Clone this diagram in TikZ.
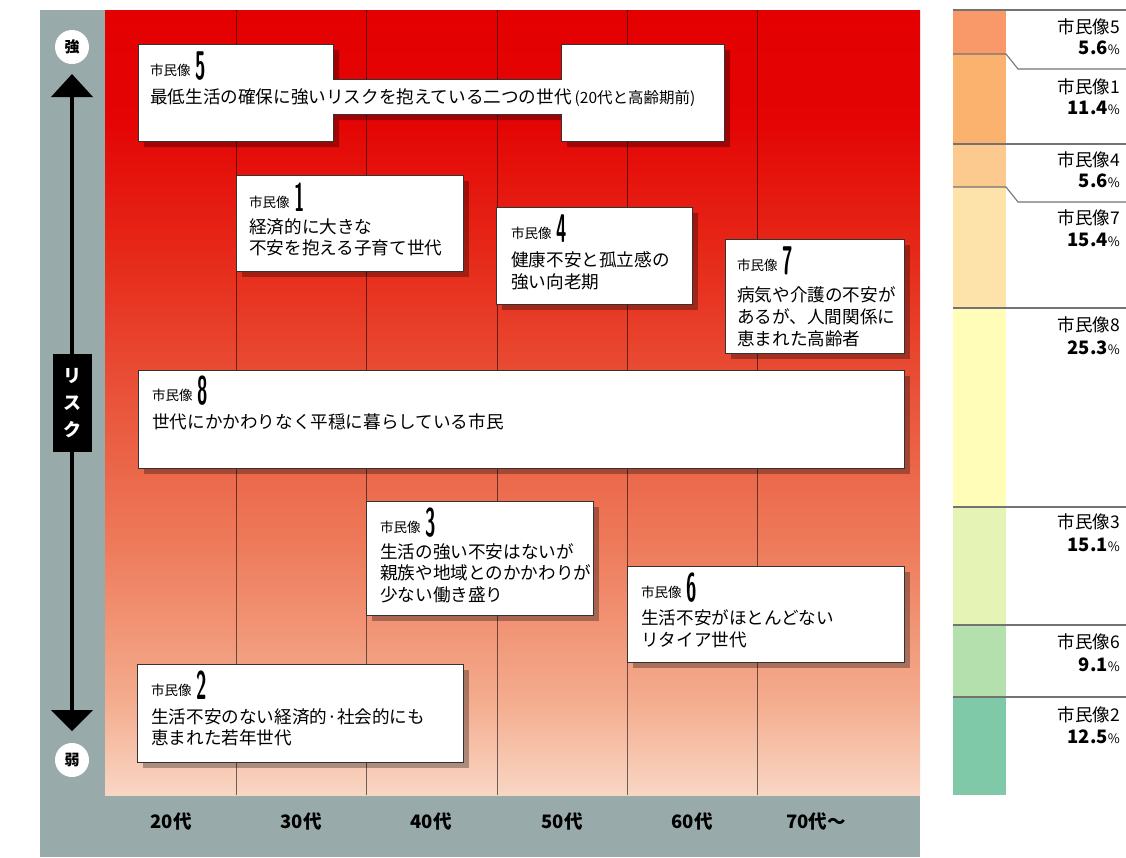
\documentclass[tikz,border=0pt]{standalone}
\usepackage{fontspec}
\usepackage{graphicx}
\setmainfont{Noto Sans CJK JP}
\usetikzlibrary{shadows}
\definecolor{g1}{HTML}{E40000}
\definecolor{g2}{HTML}{E40404}
\definecolor{g3}{HTML}{E62818}
\definecolor{g4}{HTML}{E9543A}
\definecolor{g5}{HTML}{EE7C5C}
\definecolor{g6}{HTML}{F4AC8E}
\definecolor{g7}{HTML}{F9D6C4}
\definecolor{panel}{HTML}{99AAAA}
\definecolor{c5}{HTML}{F9996A}
\definecolor{c1}{HTML}{FBB26E}
\definecolor{c4}{HTML}{FCCA8E}
\definecolor{c7}{HTML}{FDE3A9}
\definecolor{c8}{HTML}{FFFDB8}
\definecolor{c3}{HTML}{E5F3B5}
\definecolor{c6}{HTML}{B4E0AE}
\definecolor{c2}{HTML}{7FC9A8}
\pgfdeclareverticalshading{redgrad}{100bp}{color(0bp)=(g7); color(25bp)=(g7); color(31.05bp)=(g6); color(40.6bp)=(g5); color(50.16bp)=(g4); color(59.71bp)=(g3); color(67.99bp)=(g2); color(75bp)=(g1); color(100bp)=(g1)}
\newcommand\hdrtxt[1]{{\fontsize{13.5}{14}\selectfont 市民像}\hspace{5pt}\raisebox{-4pt}{\scalebox{0.47}[1]{\fontsize{40}{40}\selectfont\sffamily\bfseries #1}}}
\newcommand\pct[2]{{\fontsize{18.5}{18.5}\selectfont\bfseries #1}{\fontsize{13}{13}\selectfont #2}}
\tikzset{
  boxsty/.style={draw=black!80, fill=white, line width=0.9pt, inner sep=0pt, anchor=north west,
    drop shadow={shadow xshift=6pt, shadow yshift=-6pt, fill=black, opacity=0.3}},
  txt/.style={inner sep=0pt, anchor=base west, font=\fontsize{17.6}{17.6}\selectfont},
  hdr/.style={inner sep=0pt, anchor=base west},
  gridl/.style={draw=black, opacity=0.55, line width=1pt},
  leg/.style={inner sep=0pt, anchor=base east, font=\fontsize{17.5}{17.5}\selectfont},
  sep/.style={draw=black!55, line width=1.1pt},
  axl/.style={inner sep=0pt, font=\fontsize{18.5}{18.5}\selectfont\bfseries},
}
\begin{document}
\begin{tikzpicture}[x=1pt,y=-1pt]
\useasboundingbox (0,0) rectangle (1126,857);
% panels
\fill[panel] (40,10) rectangle (105,857);
\fill[panel] (40,795) rectangle (920,857);
\shade[shading=redgrad] (105,10) rectangle (920,795);
% grid lines
\foreach \gx in {236,366,497,627,757} \draw[gridl] (\gx,10) -- (\gx,795);
% left axis
\draw[line width=4pt] (72,95) -- (72,712);
\fill[black] (72,74) -- (93,97) -- (51,97) -- cycle;
\fill[black] (72,731) -- (93,710) -- (51,710) -- cycle;
\node[circle, fill=white, minimum size=34pt, inner sep=0pt, font=\fontsize{15}{15}\selectfont\bfseries] (strong) at (72,47) {強};
\node[circle, fill=white, minimum size=34pt, inner sep=0pt, font=\fontsize{15}{15}\selectfont\bfseries] (weak) at (72,760) {弱};
\node[fill=black, minimum width=39pt, minimum height=98pt, inner sep=0pt, anchor=north west] (risk) at (53,354) {};
\node[text=white, font=\fontsize{18}{18}\selectfont\bfseries, inner sep=0pt] (r1) at (72,376) {リ};
\node[text=white, font=\fontsize{18}{18}\selectfont\bfseries, inner sep=0pt] (r2) at (72,403) {ス};
\node[text=white, font=\fontsize{18}{18}\selectfont\bfseries, inner sep=0pt] (r3) at (72,430) {ク};
% axis labels
\node[axl] (a20) at (171,821) {20代};
\node[axl] (a30) at (301,821) {30代};
\node[axl] (a40) at (431,821) {40代};
\node[axl] (a50) at (562,821) {50代};
\node[axl] (a60) at (692,821) {60代};
\node[axl] (a70) at (816,821) {70代～};
% box 5 (compound)
\fill[black, opacity=0.3, shift={(6,6)}] (138,44) -- (333,44) -- (333,79) -- (561,79) -- (561,44) -- (724,44) -- (724,141) -- (561,141) -- (561,114) -- (333,114) -- (333,141) -- (138,141) -- cycle;
\draw[draw=black!80, fill=white, line width=0.9pt] (138,44) -- (333,44) -- (333,79) -- (561,79) -- (561,44) -- (724,44) -- (724,141) -- (561,141) -- (561,114) -- (333,114) -- (333,141) -- (138,141) -- cycle;
\node[hdr] (h5) at (150,75) {\hdrtxt{5}};
\node[txt] (t5) at (150,103.5) {最低生活の確保に強いリスクを抱えている二つの世代{\fontsize{15.5}{15.5}\selectfont\kern3pt(20代と高齢期前)}};
% box 1
\node[boxsty, minimum width=227pt, minimum height=96pt] (b1) at (236,175) {};
\node[hdr] (h1) at (249,207) {\hdrtxt{1}};
\node[txt] (t1a) at (249,233.5) {経済的に大きな};
\node[txt] (t1b) at (249,254.5) {不安を抱える子育て世代};
% box 4
\node[boxsty, minimum width=196pt, minimum height=97pt] (b4) at (496,207) {};
\node[hdr] (h4) at (511,238) {\hdrtxt{4}};
\node[txt] (t4a) at (511,266.5) {健康不安と孤立感の};
\node[txt] (t4b) at (511,288.5) {強い向老期};
% box 7
\node[boxsty, minimum width=179pt, minimum height=114pt] (b7) at (725,239) {};
\node[hdr] (h7) at (737,270) {\hdrtxt{7}};
\node[txt] (t7a) at (737,301.5) {病気や介護の不安が};
\node[txt] (t7b) at (737,323.5) {あるが、人間関係に};
\node[txt] (t7c) at (737,345.5) {恵まれた高齢者};
% box 8
\node[boxsty, minimum width=766pt, minimum height=98pt] (b8) at (138,370) {};
\node[hdr] (h8) at (152,400) {\hdrtxt{8}};
\node[txt] (t8) at (152,428.5) {世代にかかわりなく平穏に暮らしている市民};
% box 3
\node[boxsty, minimum width=227pt, minimum height=114pt] (b3) at (366,501) {};
\node[hdr] (h3) at (380,532) {\hdrtxt{3}};
\node[txt] (t3a) at (380,558.5) {生活の強い不安はないが};
\node[txt] (t3b) at (380,579.5) {親族や地域とのかかわりが};
\node[txt] (t3c) at (380,601.5) {少ない働き盛り};
% box 6
\node[boxsty, minimum width=277pt, minimum height=96pt] (b6) at (627,566) {};
\node[hdr] (h6) at (641,597) {\hdrtxt{6}};
\node[txt] (t6a) at (641,624.5) {生活不安がほとんどない};
\node[txt] (t6b) at (641,646.5) {リタイア世代};
% box 2
\node[boxsty, minimum width=326pt, minimum height=98pt] (b2) at (137,664) {};
\node[hdr] (h2) at (151,695) {\hdrtxt{2}};
\node[txt] (t2a) at (151,723.5) {生活不安のない経済的·社会的にも};
\node[txt] (t2b) at (151,744.5) {恵まれた若年世代};
% legend bar
\fill[c5] (953,10) rectangle (1006,54);
\fill[c1] (953,54) rectangle (1006,144);
\fill[c4] (953,144) rectangle (1006,187);
\fill[c7] (953,187) rectangle (1006,308);
\fill[c8] (953,308) rectangle (1006,507);
\fill[c3] (953,507) rectangle (1006,625);
\fill[c6] (953,625) rectangle (1006,697);
\fill[c2] (953,697) rectangle (1006,795);
\coordinate (s0a) at (953,10); \coordinate (s0b) at (1126,10);
\draw[sep] (s0a) -- (s0b);
\coordinate (s1a) at (953,54); \coordinate (s1b) at (1006,54); \coordinate (s1c) at (1018,69); \coordinate (s1d) at (1126,69);
\draw[sep] (s1a) -- (s1b) -- (s1c) -- (s1d);
\coordinate (s2a) at (953,144); \coordinate (s2b) at (1126,144);
\draw[sep] (s2a) -- (s2b);
\coordinate (s3a) at (953,187); \coordinate (s3b) at (1006,187); \coordinate (s3c) at (1018,202); \coordinate (s3d) at (1126,202);
\draw[sep] (s3a) -- (s3b) -- (s3c) -- (s3d);
\coordinate (s4a) at (953,308); \coordinate (s4b) at (1126,308);
\draw[sep] (s4a) -- (s4b);
\coordinate (s5a) at (953,507); \coordinate (s5b) at (1126,507);
\draw[sep] (s5a) -- (s5b);
\coordinate (s6a) at (953,625); \coordinate (s6b) at (1126,625);
\draw[sep] (s6a) -- (s6b);
\coordinate (s7a) at (953,697); \coordinate (s7b) at (1126,697);
\draw[sep] (s7a) -- (s7b);
% legend labels
\node[leg] (l5) at (1120,33.5) {市民像5};
\node[leg] (p5) at (1120,54.5) {\pct{5.6}{\%}};
\node[leg] (l1) at (1120,93.5) {市民像1};
\node[leg] (p1) at (1120,114.5) {\pct{11.4}{\%}};
\node[leg] (l4) at (1120,166.5) {市民像4};
\node[leg] (p4) at (1120,187.5) {\pct{5.6}{\%}};
\node[leg] (l7) at (1120,224.5) {市民像7};
\node[leg] (p7) at (1120,246.5) {\pct{15.4}{\%}};
\node[leg] (l8) at (1120,331.5) {市民像8};
\node[leg] (p8) at (1120,354.5) {\pct{25.3}{\%}};
\node[leg] (l3) at (1120,528.5) {市民像3};
\node[leg] (p3) at (1120,551.5) {\pct{15.1}{\%}};
\node[leg] (l6) at (1120,648.5) {市民像6};
\node[leg] (p6) at (1120,671.5) {\pct{9.1}{\%}};
\node[leg] (l2) at (1120,721.5) {市民像2};
\node[leg] (p2) at (1120,743.5) {\pct{12.5}{\%}};
\end{tikzpicture}
\end{document}
